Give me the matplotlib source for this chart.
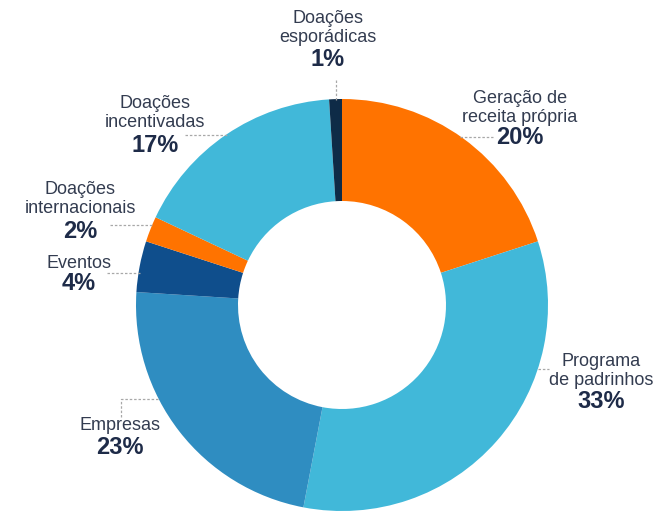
import matplotlib.pyplot as plt

categories = ["Geração de\nreceita própria", "Programa\nde padrinhos", "Empresas", "Eventos",
              "Doações\ninternacionais", "Doações\nincentivadas", "Doações\nesporádicas"]
values = [20, 33, 23, 4, 2, 17, 1]
pct_labels = ["20%", "33%", "23%", "4%", "2%", "17%", "1%"]
colors = ["#FF7300", "#41B8D9", "#2F8DC1", "#0F4E8C", "#FF7300", "#41B8D9", "#0E2B47"]

W, H = 655, 512
fig = plt.figure(figsize=(6.55, 5.12), dpi=100)
ax = fig.add_axes([0, 0, 1, 1])
plt.rcParams['font.family'] = ['Liberation Sans', 'DejaVu Sans']

cx, cy = 342, H - 305
R = 206
ax.pie(values, colors=colors, startangle=90, counterclock=False, center=(cx, cy), radius=R,
       wedgeprops=dict(width=R - 104, linewidth=0), frame=False)
ax.set_xlim(0, W)
ax.set_ylim(0, H)
ax.set_aspect('equal')
ax.axis('off')

# label positions (image pixel coords: x, y of name block centre, y of pct)
label_pos = [
    (520, 108, 138),
    (601, 371, 402),
    (120, 425, 447),
    (79, 264, 283),
    (80, 199, 231),
    (155, 113, 146),
    (328, 28, 60),
]
name_col = "#333C50"
pct_col = "#1E2B48"
for name, pct, (x, yn, yp) in zip(categories, pct_labels, label_pos):
    ax.text(x, H - yn, name, ha='center', va='center', fontsize=13, color=name_col,
            linespacing=1.1)
    ax.text(x, H - yp, pct, ha='center', va='center', fontsize=17, fontweight='bold',
            color=pct_col)

# dotted leader lines (image pixel coords)
leaders = [
    [(460, 137), (493, 137)],
    [(538, 369), (549, 369)],
    [(158, 399), (121, 399), (121, 418)],
    [(107, 273), (140, 273)],
    [(110, 225), (152, 225)],
    [(185, 135), (229, 135)],
    [(336, 80), (336, 100)],
]
for pts in leaders:
    xs = [p[0] for p in pts]
    ys = [H - p[1] for p in pts]
    ax.plot(xs, ys, color="#A8A8A8", linewidth=0.9, linestyle=(0, (2, 1.5)))

fig.savefig("out.png", dpi=100)
